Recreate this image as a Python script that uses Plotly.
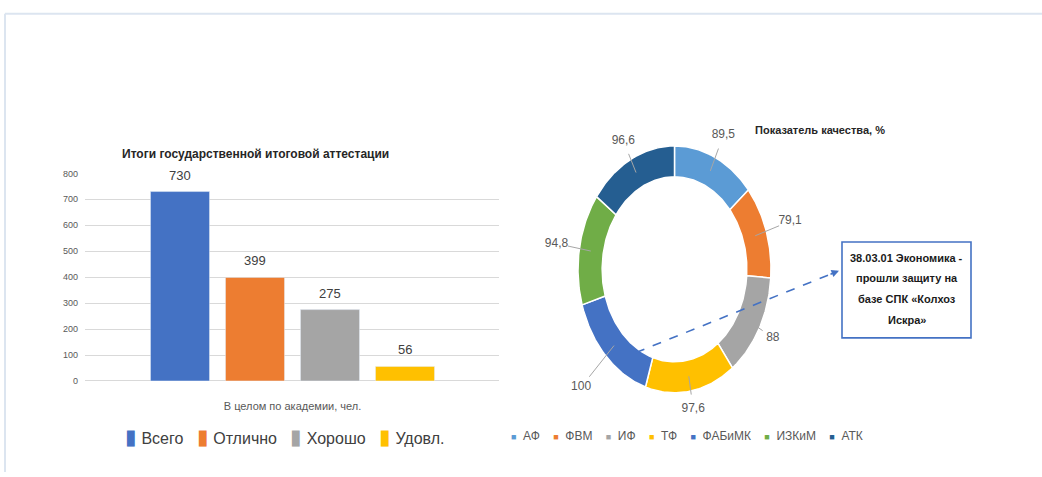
import numpy as np
import plotly.graph_objects as go

W, H = 1042, 477

# --- bar chart: results of the state final attestation ---
BAR_CATEGORY = "В целом по академии, чел."
BAR_SERIES = ["Всего", "Отлично", "Хорошо", "Удовл."]
BAR_VALUES = [730, 399, 275, 56]
BAR_COLORS = ["#4472C4", "#ED7D31", "#A5A5A5", "#FFC000"]
BAR_TICKS = [0, 100, 200, 300, 400, 500, 600, 700, 800]

# --- donut chart: quality index by faculty, % ---
RING_LABELS = ["АФ", "ФВМ", "ИФ", "ТФ", "ФАБиМК", "ИЗКиМ", "АТК"]
RING_VALUES = [89.5, 79.1, 88, 97.6, 100, 94.8, 96.6]
RING_COLORS = ["#5B9BD5", "#ED7D31", "#A5A5A5", "#FFC000", "#4472C4", "#70AD47", "#255E91"]

BOX_LINES = ["38.03.01 Экономика -", "прошли защиту на", "базе СПК «Колхоз", "Искра»"]

FONT = "Liberation Sans, Arial, sans-serif"
GREY = "#595959"
DARK = "#404040"


def fx(p):
    return p / W


def fy(p):
    return 1 - p / H


fig = go.Figure()

# bars of the single category, one slot per series
slots = list(range(len(BAR_SERIES)))
for i, (name, val, col) in enumerate(zip(BAR_SERIES, BAR_VALUES, BAR_COLORS)):
    fig.add_trace(go.Bar(
        x=[i], y=[val], name=name, marker_color=col, width=0.787,
        showlegend=False, xaxis="x", yaxis="y", hoverinfo="name+y",
    ))

# donut ring drawn on its own axes; the unequal axis scaling gives the oval shape
R_OUT, R_IN = 1.0, 0.75
total = sum(RING_VALUES)
start = 0.0
mids = []
for name, val, col in zip(RING_LABELS, RING_VALUES, RING_COLORS):
    span = val / total * 2 * np.pi
    t = np.linspace(start, start + span, 60)
    xs = np.concatenate([R_OUT * np.sin(t), R_IN * np.sin(t[::-1])])
    ys = np.concatenate([R_OUT * np.cos(t), R_IN * np.cos(t[::-1])])
    fig.add_trace(go.Scatter(
        x=np.append(xs, xs[0]), y=np.append(ys, ys[0]), mode="lines",
        fill="toself", fillcolor=col, line=dict(color="white", width=1.5),
        name=name, showlegend=False, hoverinfo="name", xaxis="x2", yaxis="y2",
    ))
    mids.append(start + span / 2)
    start += span

# data labels with leader lines
LABEL_R = [1.2, 1.26, 1.16, 1.15, 1.36, 1.24, 1.17]
lx, ly, tx, ty, texts = [], [], [], [], []
for m, r, v in zip(mids, LABEL_R, RING_VALUES):
    lx += [0.88 * np.sin(m), (r - 0.12) * np.sin(m), None]
    ly += [0.88 * np.cos(m), (r - 0.12) * np.cos(m), None]
    tx.append(r * np.sin(m))
    ty.append(r * np.cos(m))
    texts.append("{:g}".format(v).replace(".", ","))
fig.add_trace(go.Scatter(x=lx, y=ly, mode="lines", line=dict(color="#a6a6a6", width=1),
                         hoverinfo="skip", showlegend=False, xaxis="x2", yaxis="y2"))
fig.add_trace(go.Scatter(x=tx, y=ty, mode="text", text=texts, textposition="middle center",
                         textfont=dict(family=FONT, size=12, color=GREY),
                         hoverinfo="skip", showlegend=False, xaxis="x2", yaxis="y2"))

# donut geometry in pixels
CX, CY, RX, RY = 674.5, 270, 96.5, 126
XR, YR = 1.6, 1.4


def paper_note(text, x, y, size, color, **kw):
    return dict(text=text, x=fx(x), y=fy(y), xref="paper", yref="paper", showarrow=False,
                xanchor="center", yanchor="middle",
                font=dict(family=FONT, size=size, color=color), **kw)


annotations = [
    paper_note("<b>Итоги государственной итоговой аттестации</b>", 255, 152, 12, "#262626"),
    paper_note("<b>Показатель качества, %</b>", 820, 128, 11, "#262626"),
]

# value labels above the bars
for i, val in enumerate(BAR_VALUES):
    annotations.append(dict(text=str(val), x=i, y=val, xref="x", yref="y", showarrow=False,
                            xanchor="center", yanchor="bottom", yshift=7,
                            font=dict(family=FONT, size=13, color=DARK)))

# legends
bar_legend = ("\u00a0" * 3).join(
    "<span style='color:%s;font-size:21px'>\u25ae</span>\u00a0%s" % (c, n)
    for n, c in zip(BAR_SERIES, BAR_COLORS))
annotations.append(paper_note(bar_legend, 285, 441, 16, DARK))
ring_legend = ("\u00a0" * 4).join(
    "<span style='color:%s;font-size:9px'>\u25a0</span>\u00a0\u00a0%s" % (c, n)
    for n, c in zip(RING_LABELS, RING_COLORS))
annotations.append(paper_note(ring_legend, 687, 440, 12, GREY))

# callout box text
for i, line in enumerate(BOX_LINES):
    annotations.append(paper_note("<b>%s</b>" % line, 906.5, 258 + 21.3 * i, 11, "#1a1a1a"))

# arrow head of the dashed pointer
annotations.append(dict(text="", x=fx(839), y=fy(271.5), xref="paper", yref="paper",
                        showarrow=True, ax=-10, ay=4, arrowhead=2, arrowsize=1,
                        arrowwidth=1.5, arrowcolor="#4472C4"))

shapes = [
    dict(type="line", xref="paper", yref="paper", x0=fx(5), y0=fy(9), x1=1, y1=fy(9),
         line=dict(color="#dce5f0", width=2)),
    dict(type="line", xref="paper", yref="paper", x0=fx(5), y0=fy(9), x1=fx(5), y1=0,
         line=dict(color="#dce5f0", width=2)),
    dict(type="line", xref="paper", yref="paper", x0=fx(636), y0=fy(355), x1=fx(834), y1=fy(273.5),
         line=dict(color="#4472C4", width=1.6, dash="dash")),
    dict(type="rect", xref="paper", yref="paper", x0=fx(842), y0=fy(242), x1=fx(971), y1=fy(340),
         line=dict(color="#4472C4", width=1.6), fillcolor="white"),
]

# bar plot area: slot 0 centred at 180px, 75px per slot, plot spans 85..499px
X0, SLOT = 180, 75
fig.update_layout(
    width=W, height=H, margin=dict(l=0, r=0, t=0, b=0),
    paper_bgcolor="white", plot_bgcolor="white",
    barmode="overlay", showlegend=False,
    font=dict(family=FONT),
    xaxis=dict(domain=[fx(85), fx(499)], anchor="y",
               range=[(85 - X0) / SLOT, (499 - X0) / SLOT],
               tickvals=[(len(slots) - 1) / 2], ticktext=[BAR_CATEGORY],
               showgrid=False, showline=False, zeroline=False, ticks="", ticklabelstandoff=17,
               tickfont=dict(family=FONT, size=11, color=GREY), fixedrange=True),
    yaxis=dict(domain=[fy(384), fy(172)], anchor="x", range=[0, 800], tickvals=BAR_TICKS,
               showgrid=True, gridcolor="#d9d9d9", gridwidth=1, zeroline=True,
               zerolinecolor="#d9d9d9", zerolinewidth=1, showline=False, ticklabelstandoff=6,
               tickfont=dict(family=FONT, size=9, color=GREY), fixedrange=True),
    xaxis2=dict(domain=[fx(CX - XR * RX), fx(CX + XR * RX)], range=[-XR, XR], anchor="y2",
                visible=False, fixedrange=True),
    yaxis2=dict(domain=[fy(CY + YR * RY), fy(CY - YR * RY)], range=[-YR, YR], anchor="x2",
                visible=False, fixedrange=True),
    annotations=annotations, shapes=shapes,
)

fig.write_html("out.html")
